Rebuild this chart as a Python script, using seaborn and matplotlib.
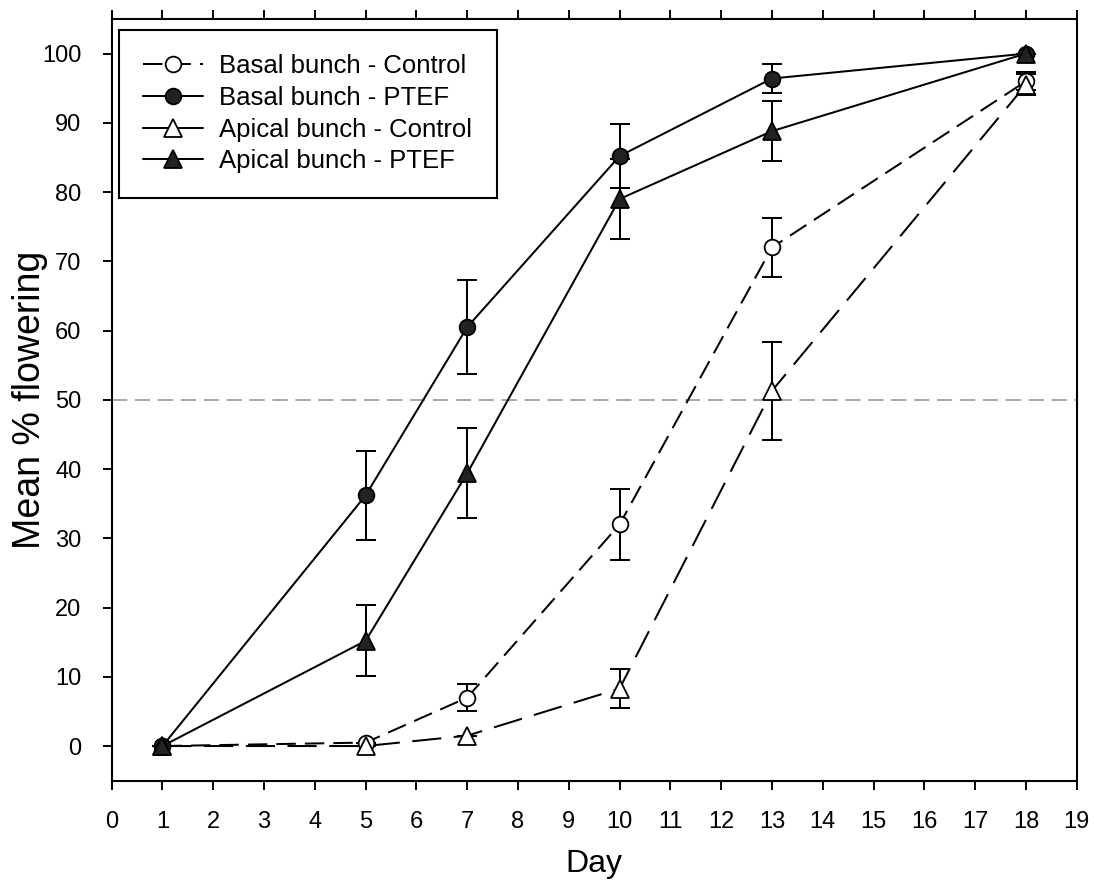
import numpy as np
import pandas as pd
import seaborn as sns
import matplotlib
matplotlib.use("Agg")
import matplotlib.pyplot as plt
from matplotlib.lines import Line2D

# Sampling days
days = [1, 5, 7, 10, 13, 18]

# Mean % flowering and standard errors per treatment
basal_control = [0.0, 0.5, 7.0, 32.0, 72.0, 96.0]
basal_control_se = [0.0, 0.0, 2.0, 5.1, 4.3, 1.3]
basal_ptef = [0.0, 36.2, 60.5, 85.2, 96.4, 100.0]
basal_ptef_se = [0.0, 6.4, 6.8, 4.6, 2.1, 0.0]
apical_control = [0.0, 0.0, 1.5, 8.3, 51.3, 95.5]
apical_control_se = [0.0, 0.0, 0.0, 2.8, 7.1, 1.5]
apical_ptef = [0.0, 15.2, 39.4, 79.0, 88.8, 100.0]
apical_ptef_se = [0.0, 5.1, 6.5, 5.8, 4.3, 0.0]

labels = ["Basal bunch - Control", "Basal bunch - PTEF",
          "Apical bunch - Control", "Apical bunch - PTEF"]
x_ticks = list(range(0, 20))
y_ticks = list(range(0, 101, 10))

sns.set_style("ticks")
plt.rcParams["font.family"] = ["Liberation Sans", "DejaVu Sans"]
plt.rcParams["lines.scale_dashes"] = False
for key in ("text.color", "axes.labelcolor", "xtick.color", "ytick.color",
            "axes.edgecolor"):
    plt.rcParams[key] = "black"

fig = plt.figure(figsize=(10.94, 8.82), dpi=100)
ax = fig.add_axes([0.1021, 0.1149, 0.8821, 0.8636])

dark = "#222222"
series = [
    (basal_control, basal_control_se, "o", "white", (0, (14, 6.5))),
    (basal_ptef, basal_ptef_se, "o", dark, "solid"),
    (apical_control, apical_control_se, "^", "white", (0, (21, 9))),
    (apical_ptef, apical_ptef_se, "^", dark, "solid"),
]

# 50% reference line
ax.axhline(50, color="#a0a0a0", lw=1.3, ls=(0, (11, 5.5)), zorder=1)

lw = 1.45
for (vals, se, mk, fc, ls), lab in zip(series, labels):
    df = pd.DataFrame({"Day": days, "Mean": vals})
    sns.lineplot(data=df, x="Day", y="Mean", ax=ax, color="black", lw=lw,
                 linestyle=ls, marker=None, zorder=2, legend=False)
    ax.errorbar(days, vals, yerr=se, fmt="none", ecolor="black",
                elinewidth=lw, capsize=7, capthick=lw, zorder=3)
    ax.plot(days, vals, ls="none", marker=mk, ms=11.3 if mk == "o" else 12.5,
            mfc=fc, mec="black", mew=1.3, zorder=4)

ax.set_xlim(0, 19)
ax.set_ylim(-5, 105)
ax.set_xticks(x_ticks)
ax.set_yticks(y_ticks)
ax.tick_params(axis="both", which="both", direction="out", length=6.7,
               width=1.4, labelsize=17, colors="black", pad=15)
ax.tick_params(axis="x", top=True)
for s in ax.spines.values():
    s.set_visible(True)
    s.set_linewidth(1.5)
    s.set_color("black")

ax.set_xlabel("Day", fontsize=23, labelpad=12)
ax.set_ylabel("Mean % flowering", fontsize=27, labelpad=-4)

handles = []
for (vals, se, mk, fc, ls), lab in zip(series, labels):
    hls = ls if lab == labels[0] else "solid"
    handles.append(Line2D([], [], color="black", lw=lw, linestyle=hls,
                          marker=mk, ms=11.3 if mk == "o" else 12.5,
                          mfc=fc, mec="black", mew=1.3, label=lab))
leg = ax.legend(handles=handles, loc="upper left",
                bbox_to_anchor=(0.0076, 0.9856), fontsize=18.5,
                frameon=True, fancybox=False, edgecolor="black",
                framealpha=1, borderpad=0.95, labelspacing=0.3,
                handlelength=2.3, handletextpad=0.65, borderaxespad=0)
leg.get_frame().set_linewidth(1.5)

fig.savefig("out.png", dpi=100)
